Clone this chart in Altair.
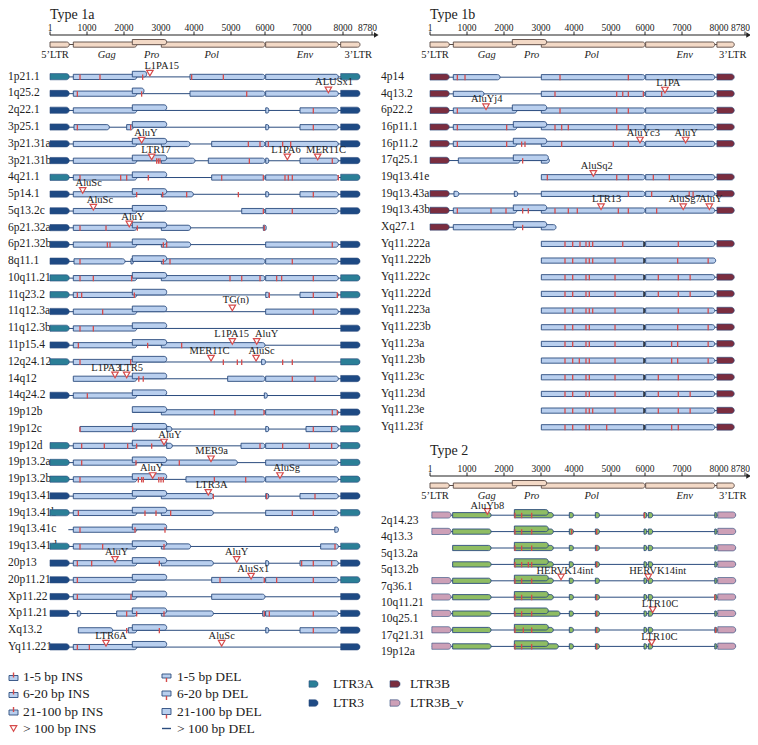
import altair as alt
import pandas as pd

FONT = "Liberation Serif"
R = 20000  # offset of the right-hand panels on the shared genome axis

# ---------------- ruler / axis calibration ----------------
TICKS = [1, 1000, 2000, 3000, 4000, 5000, 6000, 7000, 8000, 8780]
XD = [-1134, 0, 1000, 2000, 3000, 4000, 5000, 6000, 7000, 8000, 8780, 8990,
      R - 1323, R, R + 1000, R + 2000, R + 3000, R + 4000, R + 5000, R + 6000,
      R + 7000, R + 8000, R + 8780, R + 8990]
XR = [0, 42, 79, 116, 153, 186, 223, 257, 294, 335, 364, 370,
      373, 422, 459, 496, 533, 566, 603, 637, 674, 711, 737, 742]
XS = alt.Scale(domain=XD, range=XR, zero=False, nice=False)
YS = alt.Scale(domain=[8, 737], range=[0, 729], zero=False, nice=False)

PANEL_TITLE = ["Type 1a", "Type 1b", "Type 2"]
PANEL_OFF = [0, R, R]
RULER_Y = [35, 35, 476]
TITLE_Y = [18.5, 18.5, 455]

RULER_NAME = ["5’LTR", "Gag", "Pro", "Pol", "Env", "3’LTR"]
RULER_START = [0, 630, 2225, 3010, 6018, 7943]
RULER_END = [520, 2345, 3172, 6000, 7886, 8457]
RULER_LABEL_AT = [135, 1532, 2748, 4478, 7073, 8412]
RULER_ITALIC = [False, True, True, True, True, False]

# ---------------- colours ----------------
RED = "#d64b4b"
NAVY = "#2b4c7e"
BLUE_FILL = "#b9cfee"
GREEN_FILL = "#8fbd63"
PEACH = "#f3d9c6"
LTR_COLOR = {"LTR3A": "#2b7f97", "LTR3": "#1e4a84", "LTR3B": "#7b2d3f", "LTR3B_v": "#cda0b7"}

# ---------------- Type 1a ----------------
ROWS_1A = ["1p21.1", "1q25.2", "2q22.1", "3p25.1", "3p21.31a", "3p21.31b", "4q21.1", "5p14.1",
           "5q13.2c", "6p21.32a", "6p21.32b", "8q11.1", "10q11.21", "11q23.2", "11q12.3a",
           "11q12.3b", "11p15.4", "12q24.12", "14q12", "14q24.2", "19p12b", "19p12c", "19p12d",
           "19p13.2a", "19p13.2b", "19q13.41a", "19q13.41b", "19q13.41c", "19q13.41d", "20p13",
           "20p11.21", "Xp11.22", "Xp11.21", "Xq13.2", "Yq11.221"]
LTR5_1A = ["LTR3A", "LTR3", "LTR3", "LTR3", "LTR3", "LTR3", "LTR3A", "LTR3", "LTR3", "LTR3",
           "LTR3", "LTR3", "LTR3A", "LTR3A", "LTR3", "LTR3A", "LTR3", "LTR3A", "", "LTR3",
           "", "", "LTR3A", "LTR3A", "LTR3A", "LTR3", "LTR3A", "", "LTR3A", "LTR3",
           "LTR3", "LTR3", "LTR3", "", "LTR3"]
LTR3_1A = ["LTR3A", "LTR3", "LTR3", "LTR3", "LTR3", "LTR3", "LTR3A", "LTR3", "LTR3", "",
           "LTR3", "LTR3", "LTR3A", "LTR3A", "LTR3", "LTR3", "LTR3", "LTR3A", "LTR3", "LTR3",
           "LTR3", "LTR3A", "LTR3A", "LTR3A", "LTR3A", "LTR3", "LTR3A", "", "LTR3A", "LTR3",
           "LTR3A", "LTR3", "LTR3", "LTR3", "LTR3"]
BOX_1A = [
    "630-2345 P2225-2612 3879-6000 6018-7886",
    "630-2345 P2225-2540 3879-6000 6018-7886",
    "630-2345 P2225-3172 6020-6100 6946-7886",
    "649-1604 2072-2250 P2225-3172 6020-6100 6946-7886",
    "630-2345 P2225-3172 3010-3879 4478-6000 6018-7886",
    "630-2345 P2225-3172 3010-4027 4387-6000 6020-6100 6946-7886",
    "630-2345 P2225-3172 4478-6000 6018-7886",
    "630-2345 P2225-3172 3010-3980 6020-6100 6946-7886",
    "630-2345 P2225-3172 5315-6000 6018-7886",
    "630-2345 P2225-3172 3010-3899 5951-6030",
    "630-2345 P2225-3172 3010-3899 6018-7886",
    "649-2027 2189-2250 P2225-3172 3010-6000 6018-7886",
    "630-2345 P2225-3172 3010-6000 6018-7886",
    "630-2345 P2225-3172 6020-6110 6946-7886",
    "630-2345 P2225-3172 6018-7886",
    "630-2345 P2225-3172",
    "630-2345 P2225-3172 3010-6000",
    "630-2345 P2225-3172 5900-6010",
    "630-2345 P2225-3172 4910-6000 6018-7886",
    "630-2345 P2225-3172 5980-6060",
    "P2225-3172 3010-6000 6018-7886",
    "811-2345 P2225-3172 3172-3330 6020-6100 7098-7886",
    "630-2345 P2225-3172 3172-3343 5295-6000 6018-7886",
    "630-2345 P2225-3172 3010-5186 6018-7886",
    "630-2345 P2225-3172 3757-6000 6018-7886",
    "630-2345 P2225-3172 3010-4523 6020-6100 6946-7886",
    "630-2345 P2225-3172 3010-4523 6018-7886",
    "L495-630 630-2345 P2225-3172 7800-7886",
    "630-2345 P2225-3172 3010-3899 7455-7886",
    "630-2345 P2225-3172 3010-4523 6020-6100 6946-7886",
    "630-2345 P2225-3172 4478-6000 6018-7886",
    "630-2345 P2225-3172 4478-6000",
    "739-830 1802-2345 P2225-3172 3010-4523 5932-6018 6018-7886",
    "766-1694 2117-2345 P2225-3172 6020-6100 6946-7886",
    "630-2345 P2225-3172",
]
INS_1A = [
    "L1PA15@2700@3021", "ALUSx1@7643@7781", "", "", "AluY@2477@2594",
    "LTR17@2748@2864 L1PA6@6604@6567 MER11C@7382@7585", "", "AluSc@883@1046",
    "AluSc@1171@1351", "AluY@2144@2243", "", "", "", "", "TG(n)@5038@5147", "",
    "L1PA15@5038@5020 AluY@5756@6045", "MER11C@4460@4420 AluSc@5737@5900",
    "L1PA3@1757@1514 LTR5@2072@2189", "", "", "", "AluY@3091@3273", "MER9a@4460@4478",
    "AluY@2775@2748 AluSg@6405@6586", "LTR3A@4387@4478", "", "", "",
    "AluY@1757@1802 AluY@5168@5168", "AluSx1@5590@5655", "", "", "",
    "LTR6A@1514@1649 AluSc@4748@4748",
]
MARK_1A = [
    "811 1351 2504 3929 4793", "739 2477 5462", "7276", "739 2180 7276",
    "5510 5853 6090 6477 6694", "2883 2930 2973 5540 7739",
    "811 1910 2072 2657 4748 5951 6540 6630 6738 7886", "2342 3051 3778 5216 7276",
    "5951 6738", "811 1514 2360 5980", "1550 1622 3071 3172 7739", "811 3071 3273 6738",
    "811 1171 2207 4973 5315 5853 6315 6450 7276", "739 856 2279 6117 7276 7862",
    "1423 7276", "811 1171", "766 2639 3626", "811 2180 4793 5186 5315 6477 6738",
    "2400 2520 6738 7317", "1009", "4550 5118 5971 7739 7862", "811 2234 7276 7723",
    "856 1468 2099 2342 2748 5853 6477 7180 7723", "856 2324 3555",
    "811 2387 2477 2522 2940 3000 3070 4550 5432", "4523 6045 7317",
    "766 2567 2865 3293 6738 7276", "811 2297 3121", "811 1423 3091 7805",
    "739 1126 2955 6990 7276 7723", "739 4703 5980 6315 7276", "739 2189",
    "2072 2342 3091 5980 6117 7276", "2072 2955 7276", "739 1063",
]

# ---------------- Type 1b ----------------
ROWS_1B = ["4p14", "4q13.2", "6p22.2", "16p11.1", "16p11.2", "17q25.1", "19q13.41e",
           "19q13.43a", "19q13.43b", "Xq27.1", "Yq11.222a", "Yq11.222b", "Yq11.222c",
           "Yq11.222d", "Yq11.223a", "Yq11.223b", "Yq11.23a", "Yq11.23b", "Yq11.23c",
           "Yq11.23d", "Yq11.23e", "Yq11.23f"]
LTR5_1B = ["LTR3B"] * 6 + ["", "LTR3B", "LTR3B", "LTR3B"] + [""] * 12
LTR3_1B = ["LTR3B"] * 5 + ["", "LTR3B", "LTR3B", "LTR3B", "", "LTR3B", ""] + ["LTR3B"] * 10
BOX_1B = [
    "630-1892 3010-6000 6018-7886",
    "630-1459 3010-6000 6018-7886",
    "630-2345 P2225-3172 3010-6000 6018-7886",
    "630-2345 P2252-3172 3010-6000 6018-7886",
    "630-2345 P2252-3172 3010-6000 6018-7886",
    "766-2432 P2252-3222 3010-3253",
    "3010-6000 6018-7886",
    "649-780 2279-2369 3010-6000 6018-7886",
    "630-2345 P2252-3172 3010-6000 6018-7886",
    "630-2345 P2252-3172 3010-3455",
    "3010-6000 6018-7886", "3010-6000 6018-7910", "3010-6000 6018-7886",
    "3010-6000 6018-7886", "3010-6000 6018-7886", "3010-6000 6018-7886",
    "3010-6000 6018-7886", "3010-6000 6018-7886", "3010-6000 6018-7886",
    "3010-6000 6018-7886", "3010-6000 6018-7886", "3010-6000 6018-7886",
]
INS_1B = ["", "L1PA@6540@6630", "AluYj4@1514@1532", "", "AluYc3@5853@5951 AluY@7098@7114",
          "", "AluSq2@4523@4613", "", "LTR13@4730@4883 AluSg7@7032@7073 AluY@7739@7781",
          ""] + [""] * 12
MARK_1B = [
    "739 946 3576 5510", "3424 5168 5345 5510 5951 6450", "739 3576 5168 5510",
    "739 2072 3424 3626 3828 5168 5510", "739 2072 2477 2567 3626 5068 5510", "2504",
    "3192 5168 5510 6225 6657", "5510 6180 7195 7300",
    "739 1649 2054 2504 2657 3424 3828 4090 5216 5510 6315", "2504",
    "3727 3960 4162 4324 4414 4505 5345 6900 k5971",
    "3727 3960 4324 4414 4505 5118 6883 7707 k5971",
    "3727 3960 4324 4414 5118 6360 6900 7220 k5971",
    "3727 3960 4324 4414 5118 6360 6900 7220 k5971",
    "3727 3960 4324 4414 4505 5118 6900 7707 k5971",
    "3727 3960 4324 4414 5118 6883 7707 k5971",
    "3727 3960 4324 4414 5118 6720 6883 7707 k5971",
    "3727 3960 4144 4324 4414 5118 6720 6883 7707 k5971",
    "3727 3960 4324 4414 5118 6360 6900 k5971",
    "3727 3960 4324 4414 5118 6360 6900 7220 k5971",
    "3727 3960 4324 4414 4505 5118 6360 6900 7220 k5971",
    "3727 3960 4324 4414 4883 6720 6900 k5971",
]

# ---------------- Type 2 ----------------
ROWS_2 = ["2q14.23", "4q13.3", "5q13.2a", "5q13.2b", "7q36.1", "10q11.21", "10q25.1",
          "17q21.31", "19p12a"]
LTR5_2 = ["LTR3B_v", "LTR3B_v", "", "", "LTR3B_v", "LTR3B_v", "LTR3B_v", "LTR3B_v", "LTR3B_v"]
LTR3_2 = ["LTR3B_v"] * 9
BOX_2 = [
    "612-1650 2280-3373 P2280-3220 3858-3980 4577-4685 5971-6045 6090-6207 7886-7943",
    "612-1650 2280-3373 P2280-3220 3858-3980 4577-4685 5971-6045 6090-6207 7886-7943",
    "612-1650 2280-3373 P2280-3220 3858-3980 4577-4685 5971-6045 6090-6207 7886-7943",
    "612-1650 2280-3373 P2280-3220 3858-3980 4577-4685 5971-6045 6090-6207 7886-7943",
    "612-1650 2280-3373 P2280-3220 3858-3980 4577-4685 5971-6045 6090-6207 7886-7943",
    "612-1650 2280-3373 P2280-3220 3858-3980 4577-4685 5971-6045 6090-6207 7886-7943",
    "612-1650 2280-3576 P2280-3220 3858-3980 4577-4685 5971-6045 6090-6207 7886-7943",
    "612-1650 2280-3373 P2280-3220 3858-3980 4577-4685 5971-6045 6090-6207 7886-7943",
    "612-1650 2280-3525 P2280-3220 3858-3980 4577-4685 5971-6045 6090-6207 7886-7943",
]
INS_2 = ["AluYb8@1550@1550", "", "", "", "HERVK14int@3606@3727 HERVK14int@6090@6342", "",
         "LTR10C@6207@6405", "", "LTR10C@6180@6387"]
MARK_2 = ["2297 2477 2748 5980", "2297 2477 2748 3929 4613", "2297 2477 2748 4613",
          "2297 2477 2657 2748 4613", "2297 2477 2748", "2297 2477 2748 4613 7886",
          "2297 2477 2748 4613", "2297 2522 2748 4613 7910", "2297 2477 2748 4613"]

LTR_SPAN_1 = ((0, 520), (7943, 8457))
LTR_SPAN_2 = ((50, 570), (7967, 8502))

# ---------------- legend ----------------
LEG_INS = ["1-5 bp INS", "6-20 bp INS", "21-100 bp INS", "> 100 bp INS"]
LEG_DEL = ["1-5 bp DEL", "6-20 bp DEL", "21-100 bp DEL", "> 100 bp DEL"]
LEG_LTR_A = ["LTR3A", "LTR3"]
LEG_LTR_B = ["LTR3B", "LTR3B_v"]
LEG_ROW_Y = [677, 694, 711.5, 728.5]
LEG_LTR_Y = [684, 703]

# =============== build tables ===============
rows_line, rows_box, rows_ltr, rows_mark, rows_tri, rows_lab, rows_name = ([] for _ in range(7))


def add_panel(names, ltr5, ltr3, boxes, ins, marks, off, y0, dy, fill, spans, name_x, name_dy,
              lab_dy):
    for i, nm in enumerate(names):
        y = y0 + i * dy
        xs = []
        for kind, span in ((ltr5[i], spans[0]), (ltr3[i], spans[1])):
            if kind:
                rows_ltr.append({"x": off + span[0], "x2": off + span[1], "y": y - 3.1,
                                 "y2": y + 3.1, "c": LTR_COLOR[kind]})
                xs += list(span)
        for tok in boxes[i].split():
            tag = tok[0] if tok[0] in "PL" else ""
            a, b = (float(v) for v in tok.lstrip("PL").split("-"))
            xs += [a, b]
            if tag == "L":
                continue
            if tag == "P":
                rows_box.append({"x": off + a, "x2": off + b, "y": y - 5.4, "y2": y + 0.2,
                                 "c": fill, "z": 1})
            else:
                rows_box.append({"x": off + a, "x2": off + b, "y": y - 2.4, "y2": y + 2.8,
                                 "c": fill, "z": 0})
        rows_line.append({"x": off + min(xs), "x2": off + max(xs), "y": y + 0.2})
        for tok in ins[i].split():
            lab, tri, at = tok.split("@")
            rows_tri.append({"x": off + float(tri), "y": y - 3.6})
            rows_lab.append({"x": off + float(at), "y": y + lab_dy, "t": lab})
        for tok in marks[i].split():
            black = tok.startswith("k")
            g = float(tok.lstrip("k"))
            rows_mark.append({"x": off + g, "y": y - 2.2, "y2": y + 3.2,
                              "c": "#111111" if black else RED})
        rows_name.append({"x": name_x, "y": y + name_dy, "t": nm})


add_panel(ROWS_1A, LTR5_1A, LTR3_1A, BOX_1A, INS_1A, MARK_1A, 0, 76.7, 16.77, BLUE_FILL,
          LTR_SPAN_1, -1134, 0, -11)
add_panel(ROWS_1B, LTR5_1B, LTR3_1B, BOX_1B, INS_1B, MARK_1B, R, 77.0, 16.67, BLUE_FILL,
          LTR_SPAN_1, R - 1323, 0, -11)
add_panel(ROWS_2, LTR5_2, LTR3_2, BOX_2, INS_2, MARK_2, R, 515.0, 16.4, GREEN_FILL,
          LTR_SPAN_2, R - 1323, 6, -9.5)

df_line = pd.DataFrame(rows_line)
df_box = pd.DataFrame(rows_box).sort_values("z", kind="stable")
df_ltr = pd.DataFrame(rows_ltr)
df_mark = pd.DataFrame(rows_mark)
df_tri = pd.DataFrame(rows_tri)
df_lab = pd.DataFrame(rows_lab)
df_name = pd.DataFrame(rows_name)

# rulers
r_line, r_tick, r_ticklab, r_ticklab_end, r_box, r_lab, r_title, r_arrow, r_conn = ([] for _ in range(9))
for title, off, ry, ty in zip(PANEL_TITLE, PANEL_OFF, RULER_Y, TITLE_Y):
    r_line.append({"x": off + 1, "x2": off + 8960, "y": ry})
    r_arrow.append({"x": off + 8930, "y": ry})
    r_title.append({"x": off, "y": ty, "t": title})
    r_conn.append({"x": off + RULER_START[0], "x2": off + RULER_END[-1], "y": ry + 9.5})
    for t in TICKS:
        r_tick.append({"x": off + t, "y": ry - 3.5, "y2": ry})
        if t == TICKS[-1]:
            r_ticklab_end.append({"x": off + t, "y": ry - 7.5, "t": str(t)})
        else:
            r_ticklab.append({"x": off + t, "y": ry - 7.5, "t": str(t)})
    for nm, a, b, at, it in zip(RULER_NAME, RULER_START, RULER_END, RULER_LABEL_AT, RULER_ITALIC):
        raised = nm == "Pro"
        r_box.append({"x": off + a, "x2": off + b, "y": ry + (4.5 if raised else 7),
                      "y2": ry + (9.7 if raised else 12.2), "z": 1 if raised else 0})
        r_lab.append({"x": off + at, "y": ry + 19.5, "t": nm, "it": it})

df_r_line = pd.DataFrame(r_line)
df_r_tick = pd.DataFrame(r_tick)
df_r_ticklab = pd.DataFrame(r_ticklab)
df_r_ticklab_end = pd.DataFrame(r_ticklab_end)
df_r_box = pd.DataFrame(r_box).sort_values("z", kind="stable")
df_r_lab = pd.DataFrame(r_lab)
df_r_title = pd.DataFrame(r_title)
df_r_arrow = pd.DataFrame(r_arrow)
df_r_conn = pd.DataFrame(r_conn)

# legend tables
leg_text, leg_box, leg_red, leg_tri, leg_navy, leg_ltr = ([] for _ in range(6))
for k, (lab, ly) in enumerate(zip(LEG_INS, LEG_ROW_Y)):
    leg_text.append({"x": -729, "y": ly, "t": lab})
    if k < 3:
        leg_box.append({"x": -1107, "x2": -864, "y": ly - 1.5, "y2": ly + 3.5})
        leg_red.append({"x": -985, "y": ly - 4.5, "y2": ly + 0.5})
    else:
        leg_tri.append({"x": -985, "y": ly})
for k, (lab, ly) in enumerate(zip(LEG_DEL, LEG_ROW_Y)):
    leg_text.append({"x": 3485, "y": ly, "t": lab})
    if k < 3:
        leg_box.append({"x": 3030, "x2": 3303, "y": ly - 3, "y2": ly + 1 + k})
        leg_red.append({"x": 3166, "y": ly + 1 + k, "y2": ly + 5 + k})
    else:
        leg_navy.append({"x": 3030, "x2": 3303, "y": ly})
for lab, ly in zip(LEG_LTR_A, LEG_LTR_Y):
    leg_text.append({"x": 7756, "y": ly, "t": lab})
    leg_ltr.append({"x": 7171, "x2": 7390, "y": ly - 3.2, "y2": ly + 3.2, "c": LTR_COLOR[lab]})
for lab, ly in zip(LEG_LTR_B, LEG_LTR_Y):
    leg_text.append({"x": 19460, "y": ly, "t": lab})
    leg_ltr.append({"x": 18920, "x2": 19190, "y": ly - 3.2, "y2": ly + 3.2, "c": LTR_COLOR[lab]})

df_leg_text = pd.DataFrame(leg_text)
df_leg_box = pd.DataFrame(leg_box)
df_leg_red = pd.DataFrame(leg_red)
df_leg_tri = pd.DataFrame(leg_tri)
df_leg_navy = pd.DataFrame(leg_navy)
df_leg_ltr = pd.DataFrame(leg_ltr)

# =============== encodings helpers ===============
X = lambda f="x": alt.X(f + ":Q", scale=XS, axis=None)
Y = lambda f="y": alt.Y(f + ":Q", scale=YS, axis=None)
NOC = alt.Color("c:N", scale=None, legend=None)

layers = []

# rulers
layers.append(alt.Chart(df_r_line).mark_rule(color="#222222", strokeWidth=1.2).encode(
    x=X(), x2="x2:Q", y=Y()))
layers.append(alt.Chart(df_r_tick).mark_rule(color="#222222", strokeWidth=1).encode(
    x=X(), y=Y(), y2="y2:Q"))
layers.append(alt.Chart(df_r_arrow).mark_point(shape="triangle-right", filled=True,
                                               color="#222222", size=28, opacity=1).encode(
    x=X(), y=Y()))
layers.append(alt.Chart(df_r_ticklab).mark_text(font=FONT, fontSize=9.5, color="#222222",
                                                baseline="middle", align="center").encode(
    x=X(), y=Y(), text="t:N"))
layers.append(alt.Chart(df_r_ticklab_end).mark_text(font=FONT, fontSize=9.5, color="#222222",
                                                    baseline="middle", align="right", dx=5).encode(
    x=X(), y=Y(), text="t:N"))
layers.append(alt.Chart(df_r_conn).mark_rule(color="#5a4a44", strokeWidth=1).encode(
    x=X(), x2="x2:Q", y=Y()))
layers.append(alt.Chart(df_r_box).mark_rect(fill=PEACH, stroke="#5a4a44", strokeWidth=0.9,
                                            cornerRadiusTopRight=2.5,
                                            cornerRadiusBottomRight=2.5).encode(
    x=X(), x2="x2:Q", y=Y(), y2="y2:Q"))
layers.append(alt.Chart(df_r_lab[~df_r_lab["it"]]).mark_text(
    font=FONT, fontSize=10.5, color="#222222", baseline="middle", align="center").encode(
    x=X(), y=Y(), text="t:N"))
layers.append(alt.Chart(df_r_lab[df_r_lab["it"]]).mark_text(
    font=FONT, fontSize=10.5, fontStyle="italic", color="#222222", baseline="middle",
    align="center").encode(x=X(), y=Y(), text="t:N"))
layers.append(alt.Chart(df_r_title).mark_text(
    font=FONT, fontSize=14, color="#222222", baseline="alphabetic", align="left").encode(
    x=X(), y=Y(), text="t:N"))

# rows: names first so the LTR boxes sit on top of any touching text
layers.append(alt.Chart(df_name).mark_text(font=FONT, fontSize=11.5, color="#222222",
                                           baseline="middle", align="left").encode(
    x=X(), y=Y(), text="t:N"))
layers.append(alt.Chart(df_line).mark_rule(color=NAVY, strokeWidth=1).encode(
    x=X(), x2="x2:Q", y=Y()))
layers.append(alt.Chart(df_box).mark_rect(stroke=NAVY, strokeWidth=0.9,
                                          cornerRadiusTopRight=2.5,
                                          cornerRadiusBottomRight=2.5).encode(
    x=X(), x2="x2:Q", y=Y(), y2="y2:Q", color=NOC))
layers.append(alt.Chart(df_ltr).mark_rect(stroke=NAVY, strokeWidth=0.6,
                                          cornerRadiusTopRight=3,
                                          cornerRadiusBottomRight=3).encode(
    x=X(), x2="x2:Q", y=Y(), y2="y2:Q", color=NOC))
layers.append(alt.Chart(df_mark).mark_rule(strokeWidth=1.3).encode(
    x=X(), y=Y(), y2="y2:Q", color=NOC))
layers.append(alt.Chart(df_tri).mark_point(shape="triangle-down", filled=True, fill="white",
                                           stroke=RED, strokeWidth=1.2, size=42,
                                           opacity=1).encode(x=X(), y=Y()))
layers.append(alt.Chart(df_lab).mark_text(font=FONT, fontSize=10.5, color="#222222",
                                          baseline="middle", align="center").encode(
    x=X(), y=Y(), text="t:N"))

# legend
layers.append(alt.Chart(df_leg_box).mark_rect(fill=BLUE_FILL, stroke=NAVY, strokeWidth=0.9).encode(
    x=X(), x2="x2:Q", y=Y(), y2="y2:Q"))
layers.append(alt.Chart(df_leg_red).mark_rule(color=RED, strokeWidth=1.4).encode(
    x=X(), y=Y(), y2="y2:Q"))
layers.append(alt.Chart(df_leg_tri).mark_point(shape="triangle-down", filled=True, fill="white",
                                               stroke=RED, strokeWidth=1.2, size=42,
                                               opacity=1).encode(x=X(), y=Y()))
layers.append(alt.Chart(df_leg_navy).mark_rule(color=NAVY, strokeWidth=1.4).encode(
    x=X(), x2="x2:Q", y=Y()))
layers.append(alt.Chart(df_leg_ltr).mark_rect(stroke=NAVY, strokeWidth=0.6,
                                              cornerRadiusTopRight=3,
                                              cornerRadiusBottomRight=3).encode(
    x=X(), x2="x2:Q", y=Y(), y2="y2:Q", color=NOC))
layers.append(alt.Chart(df_leg_text).mark_text(font=FONT, fontSize=13.5, color="#222222",
                                               baseline="middle", align="left").encode(
    x=X(), y=Y(), text="t:N"))

chart = alt.layer(*layers).properties(
    width=742, height=729, padding=0, autosize=alt.AutoSizeParams(type="none")
).configure_view(stroke=None)

chart.save("out.html", embed_options={"renderer": "svg", "actions": False})
